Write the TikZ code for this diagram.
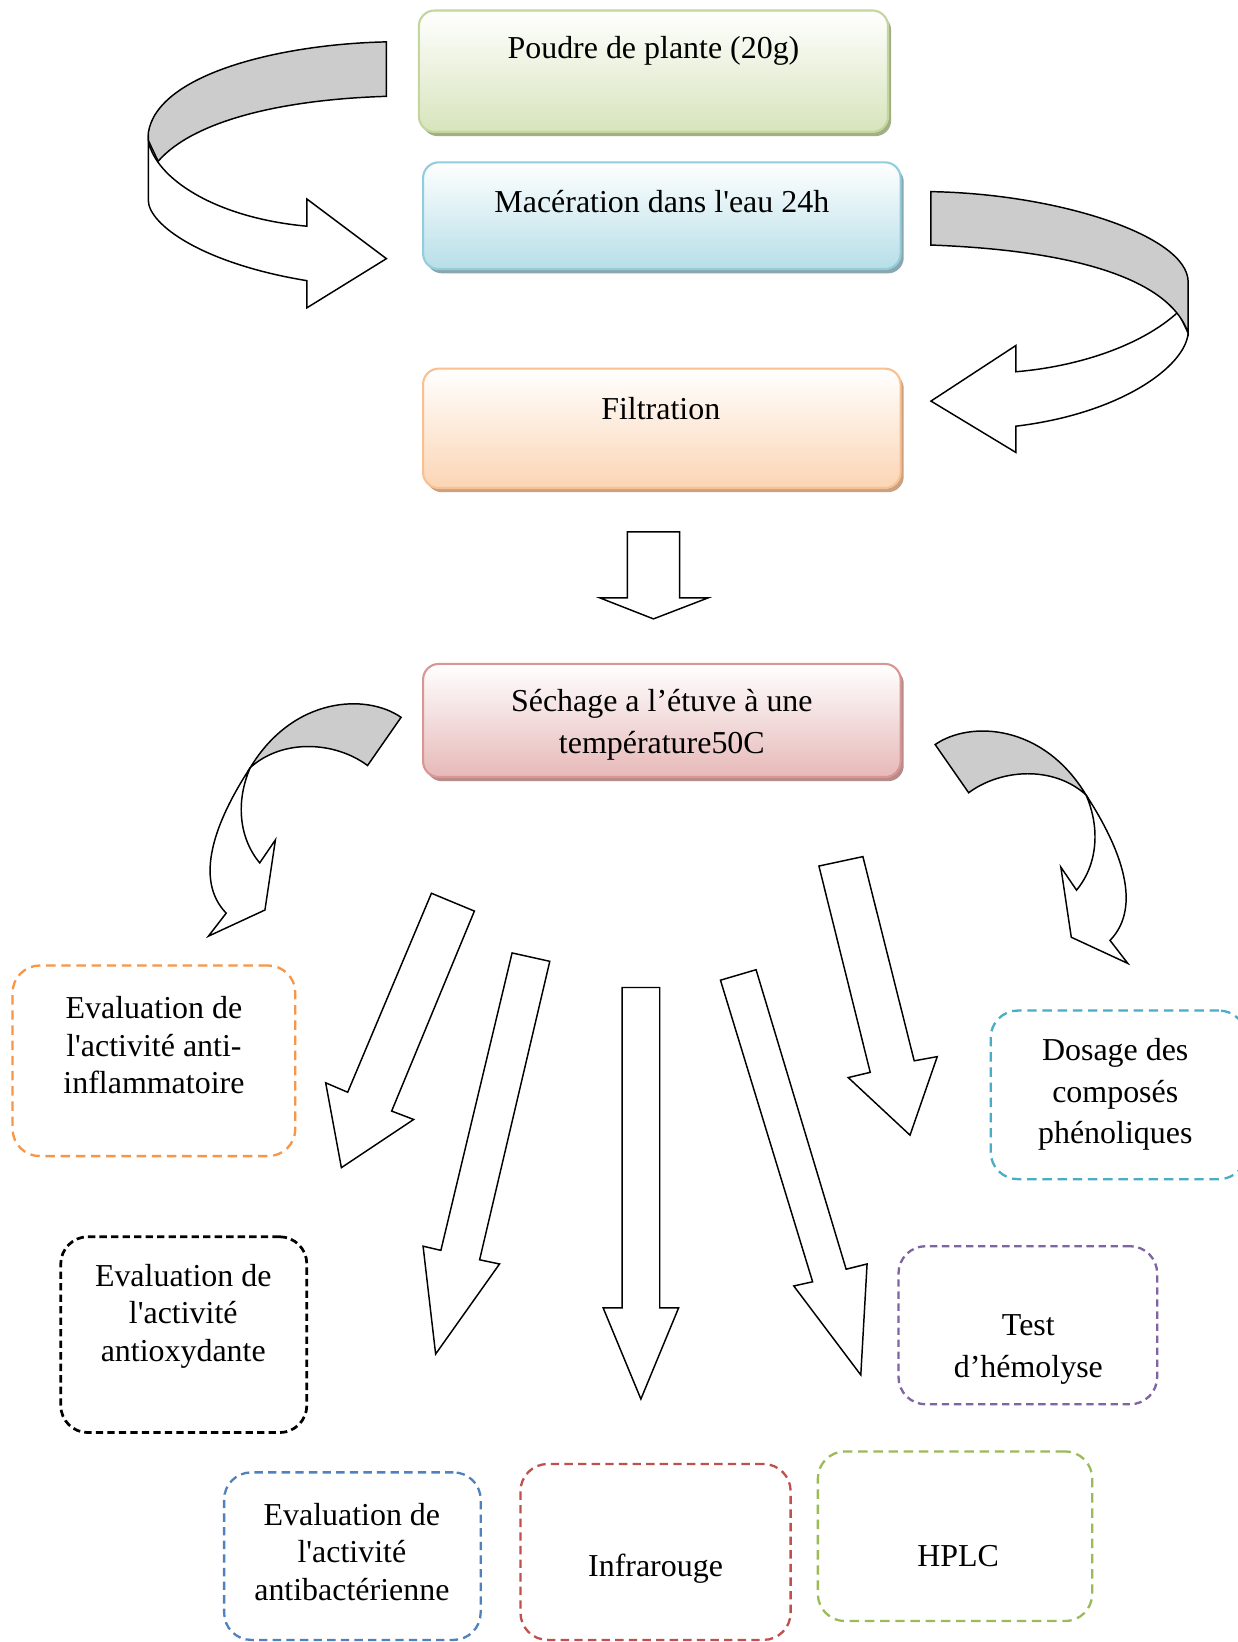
\documentclass[tikz,border=0pt]{standalone}
\usepackage{fontspec}
\newfontfamily\lib{Liberation Serif}
\usetikzlibrary{shadows}
\definecolor{gBorder}{RGB}{195,214,155}
\definecolor{gFill}{RGB}{215,228,188}
\definecolor{gShadow}{RGB}{163,174,134}
\definecolor{bBorder}{RGB}{146,205,220}
\definecolor{bFill}{RGB}{183,222,232}
\definecolor{bShadow}{RGB}{140,166,174}
\definecolor{oBorder}{RGB}{250,192,144}
\definecolor{oFill}{RGB}{251,213,181}
\definecolor{oShadow}{RGB}{201,162,132}
\definecolor{rBorder}{RGB}{217,150,148}
\definecolor{rFill}{RGB}{230,185,184}
\definecolor{rShadow}{RGB}{182,140,139}
\definecolor{cOrange}{RGB}{247,150,70}
\definecolor{cBlue}{RGB}{79,129,189}
\definecolor{cRed}{RGB}{192,80,77}
\definecolor{cGreen}{RGB}{155,187,89}
\definecolor{cPurple}{RGB}{128,100,162}
\definecolor{cCyan}{RGB}{75,172,198}
\definecolor{ribbon}{RGB}{204,204,204}
\newcommand\lowcurlarrow{%
 \path[block] (239,733) .. controls (205,785) and (185,840) .. (216,872) -- (199,894) -- (253,869) -- (263,802) -- (248,824) .. controls (228,800) and (225,765) .. (239,733) -- cycle;
 \path[ribbonback] (383,685) .. controls (350,662) and (280,665) .. (239,733) .. controls (270,705) and (320,708) .. (351,731) -- cycle;
}
\tikzset{
 txt/.style={font=\lib\fontsize{30.5}{35.5}\selectfont, align=center, inner sep=0pt},
 stepbox/.style={rounded corners=15pt, line width=2pt, inner sep=0pt, top color=white},
 dbox/.style={rounded corners=26pt, line width=2.2pt, dash pattern=on 9pt off 5.5pt, inner sep=0pt},
 dshort/.style={line width=2.6pt, dash pattern=on 7pt off 4pt},
 block/.style={draw=black, line width=1.4pt, fill=white, line join=miter},
 ribbonback/.style={draw=black, line width=1.4pt, fill=ribbon},
 shad/.style={drop shadow={shadow xshift=3pt, shadow yshift=-4pt, fill=#1, opacity=1}},
}
\begin{document}
\begin{tikzpicture}[x=1pt,y=-1pt]
\useasboundingbox[fill=white] (0,0) rectangle (1182,1568);

% process boxes
\node[stepbox, draw=gBorder, bottom color=gFill, shad=gShadow, minimum width=448pt, minimum height=116pt] (poudre) at (624,68) {};
\node[stepbox, draw=bBorder, bottom color=bFill, shad=bShadow, minimum width=456pt, minimum height=102pt] (mac) at (632,206) {};
\node[stepbox, draw=oBorder, bottom color=oFill, shad=oShadow, minimum width=456pt, minimum height=114pt] (filt) at (632,409) {};
\node[stepbox, draw=rBorder, bottom color=rFill, shad=rShadow, minimum width=456pt, minimum height=108pt] (sech) at (632,688) {};

\node[txt] (tpoudre) at (624,49) {Poudre de plante (20g)};
\node[txt] (tmac) at (632,192) {Macération dans l'eau 24h};
\node[txt] (tfilt) at (631,390) {Filtration};
\node[txt, font=\lib\fontsize{30.5}{40}\selectfont] (tsech) at (632,692) {Séchage a l’étuve à une\\température50C};

% result boxes
\node[dbox, draw=cOrange, minimum width=270pt, minimum height=182pt] (inflam) at (147,1013) {};
\node[dbox, dshort, draw=black, minimum width=235pt, minimum height=187pt] (antiox) at (175.5,1274.5) {};
\node[dbox, draw=cBlue, dash pattern=on 8pt off 5pt, minimum width=245pt, minimum height=160pt] (antibact) at (336.5,1486) {};
\node[dbox, draw=cRed, dash pattern=on 8pt off 5pt, minimum width=258pt, minimum height=168pt] (infra) at (626,1482) {};
\node[dbox, draw=cGreen, minimum width=262pt, minimum height=162pt] (hplc) at (912,1467) {};
\node[dbox, draw=cPurple, dash pattern=on 7pt off 4.5pt, minimum width=247pt, minimum height=151pt] (hemo) at (981.5,1265.5) {};
\node[dbox, draw=cCyan, minimum width=244pt, minimum height=161pt] (dosage) at (1068,1045.5) {};

\node[txt] (tinflam) at (147,998) {Evaluation de\\l'activité anti-\\inflammatoire};
\node[txt] (tantiox) at (175,1257) {Evaluation de\\l'activité\\antioxydante};
\node[txt] (tantibact) at (336,1482) {Evaluation de\\l'activité\\antibactérienne};
\node[txt] (tinfra) at (626,1498) {Infrarouge};
\node[txt] (thplc) at (915,1486) {HPLC};
\node[txt, font=\lib\fontsize{30.5}{40}\selectfont] (themo) at (982,1289) {Test\\d’hémolyse};
\node[txt, font=\lib\fontsize{30.5}{40}\selectfont] (tdosage) at (1065,1045) {Dosage des\\composés\\phénoliques};

% top-left curved arrow (Poudre -> Maceration)
\path[block] (141.6,134) .. controls (148,170) and (205,208) .. (293,216) -- (293,190) -- (369,247) -- (293,294) -- (293,268) .. controls (195,252) and (141.6,215) .. (141.6,191) -- cycle;
\path[ribbonback] (369,40) .. controls (270,42) and (150,70) .. (141.6,127) -- (141.6,134) -- (151,154) .. controls (185,115) and (270,95) .. (369,92) -- cycle;

% top-right curved arrow (Maceration -> Filtration)
\path[block] (1125,298) .. controls (1090,330) and (1030,350) .. (970,355) -- (970,330) -- (889,383) -- (970,432) -- (970,407) .. controls (1070,395) and (1132,350) .. (1134.6,318) -- cycle;
\path[ribbonback] (889,183) .. controls (1010,185) and (1134,225) .. (1134.6,269) -- (1134.6,318) .. controls (1120,275) and (1050,240) .. (889,234) -- cycle;

% lower curved arrows
\lowcurlarrow
\begin{scope}[shift={(1276,26)}, xscale=-1]
\lowcurlarrow
\end{scope}

% straight block arrows
\path[block] (599,508) -- (649,508) -- (649,571) -- (676,571) -- (624,591) -- (573,571) -- (599,571) -- cycle;
\path[block] (412,853) -- (453,870) -- (374,1061) -- (395,1069) -- (326,1115) -- (311,1034) -- (332,1043) -- cycle;
\path[block] (489,910) -- (525,918) -- (458,1203) -- (477,1207) -- (416,1293) -- (404,1190) -- (421,1194) -- cycle;
\path[block] (594,943) -- (630,943) -- (630,1249) -- (648,1249) -- (612,1336) -- (576,1249) -- (594,1249) -- cycle;
\path[block] (688,936) -- (722,926) -- (808,1212) -- (828,1207) -- (822,1313) -- (758,1228) -- (776,1224) -- cycle;
\path[block] (782,827) -- (824,818) -- (873,1013) -- (895,1009) -- (869,1084) -- (810,1029) -- (831,1024) -- cycle;
\end{tikzpicture}
\end{document}
